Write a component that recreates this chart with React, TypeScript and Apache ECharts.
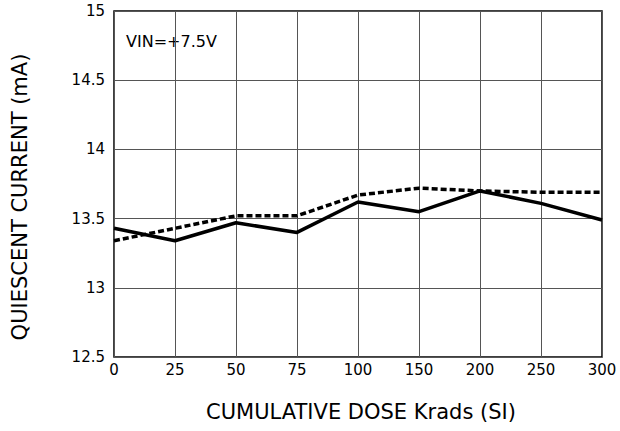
import React, { useEffect, useRef } from "react";
import * as echarts from "echarts";

const categories = ["0", "25", "50", "75", "100", "150", "200", "250", "300"];
const solidSeries = [13.43, 13.34, 13.47, 13.4, 13.62, 13.55, 13.7, 13.61, 13.49];
const dashedSeries = [13.34, 13.43, 13.52, 13.52, 13.67, 13.72, 13.7, 13.69, 13.69];
const yMin = 12.5;
const yMax = 15;
const yInterval = 0.5;
const xTitle = "CUMULATIVE DOSE Krads (SI)";
const yTitle = "QUIESCENT CURRENT (mA)";
const note = "VIN=+7.5V";

export default function App() {
  const ref = useRef<HTMLDivElement>(null);
  useEffect(() => {
    if (!ref.current) return;
    const chart = echarts.init(ref.current, undefined, { renderer: "svg" });
    const font = "DejaVu Sans";
    chart.setOption({
      animation: false,
      backgroundColor: "#fff",
      grid: { left: 114, right: 18, top: 11, bottom: 74, show: true, borderColor: "#000", borderWidth: 1.5 },
      xAxis: {
        type: "category",
        data: categories,
        boundaryGap: false,
        axisLine: { show: false },
        axisTick: { show: false },
        axisLabel: { fontFamily: font, fontSize: 15, color: "#000", margin: 5 },
        splitLine: { show: true, lineStyle: { color: "#555", width: 1 } },
      },
      yAxis: {
        type: "value",
        min: yMin,
        max: yMax,
        interval: yInterval,
        axisLine: { show: false },
        axisTick: { show: false },
        axisLabel: { fontFamily: font, fontSize: 15, color: "#000", margin: 9 },
        splitLine: { show: true, lineStyle: { color: "#555", width: 1 } },
      },
      graphic: [
        {
          type: "text",
          x: 126,
          y: 33,
          style: { text: note, fontFamily: font, fontSize: 16, fill: "#000" },
        },
        {
          type: "text",
          x: 361,
          y: 412,
          style: { text: xTitle, fontFamily: font, fontSize: 21, fill: "#000", align: "center", verticalAlign: "middle" },
        },
        {
          type: "text",
          x: 20,
          y: 197,
          rotation: Math.PI / 2,
          style: { text: yTitle, fontFamily: font, fontSize: 21, fill: "#000", align: "center", verticalAlign: "middle" },
        },
      ],
      series: [
        {
          type: "line",
          data: dashedSeries,
          symbol: "none",
          lineStyle: { color: "#000", width: 3.5, type: [6, 3] },
        },
        {
          type: "line",
          data: solidSeries,
          symbol: "none",
          lineStyle: { color: "#000", width: 3.5 },
        },
      ],
    });
    return () => chart.dispose();
  }, []);
  return <div ref={ref} style={{ width: 620, height: 431, position: "absolute", left: 0, top: 0 }} />;
}
